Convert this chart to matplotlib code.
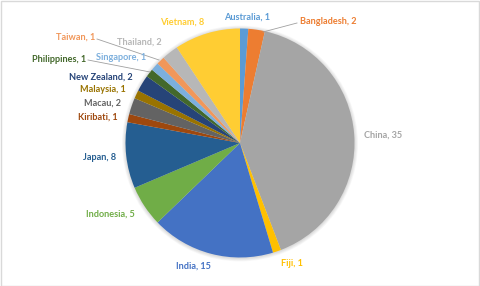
import matplotlib
matplotlib.use("Agg")
import matplotlib.pyplot as plt
from matplotlib.patches import Circle, Rectangle

countries = ["Australia", "Bangladesh", "China", "Fiji", "India", "Indonesia",
             "Japan", "Kiribati", "Macau", "Malaysia", "New Zealand",
             "Philippines", "Singapore", "Taiwan", "Thailand", "Vietnam"]
counts = [1, 2, 35, 1, 15, 5, 8, 1, 2, 1, 2, 1, 1, 1, 2, 8]
colors = ["#5B9BD5", "#ED7D31", "#A5A5A5", "#FFC000", "#4472C4", "#70AD47",
          "#255E91", "#9E480E", "#636363", "#997300", "#264478",
          "#43682B", "#7CAFDD", "#F1975A", "#B7B7B7", "#FFCD33"]

W, H = 480, 286
fig = plt.figure(figsize=(W / 100, H / 100), dpi=100)
ax = fig.add_axes([0, 0, 1, 1])
ax.set_xlim(0, W)
ax.set_ylim(0, H)
ax.set_aspect("equal")
ax.axis("off")

cx, cy, r = 240, H - 143, 114.5

# soft glow around the pie
for i in range(6):
    ax.add_patch(Circle((cx, cy - 0.5), r + 3.5 - i * 0.6, color="#000000",
                        alpha=0.025, lw=0, zorder=1))

ax.pie(counts, colors=colors, startangle=90, counterclock=False,
       center=(cx, cy), radius=r, frame=True,
       wedgeprops=dict(linewidth=0, zorder=2))
ax.set_xlim(0, W)
ax.set_ylim(0, H)
ax.axis("off")

# label anchor points (pixel centres, measured from top)
label_pos = {
    "Australia": (247, 17), "Bangladesh": (328, 21), "China": (383, 135),
    "Fiji": (292, 264), "India": (193, 266), "Indonesia": (110, 214),
    "Japan": (100, 157), "Kiribati": (98, 117), "Macau": (103, 103),
    "Malaysia": (103, 90), "New Zealand": (101, 77), "Philippines": (59, 59),
    "Singapore": (121, 58), "Taiwan": (76, 37), "Thailand": (139, 42),
    "Vietnam": (182, 22),
}
for name, val, col in zip(countries, counts, colors):
    x, y = label_pos[name]
    ax.text(x, H - y, f"{name}, {val}", color=col, fontsize=6.6,
            fontweight="bold", family="Lato", ha="center", va="center",
            zorder=5)

# leader lines for crowded labels
leaders = [((297, 23), (263, 32)), ((88, 60), (150, 72)), ((97, 39), (159, 60))]
for (x0, y0), (x1, y1) in leaders:
    ax.plot([x0, x1], [H - y0, H - y1], color="#A0A0A0", lw=0.6, zorder=4)

# chart-area frame
ax.add_patch(Rectangle((0.5, 0.5), W - 1.5, H - 1.5, fill=False,
                       edgecolor="#D9D9D9", lw=1, zorder=6))

fig.savefig("out.png", dpi=100, facecolor="white")
